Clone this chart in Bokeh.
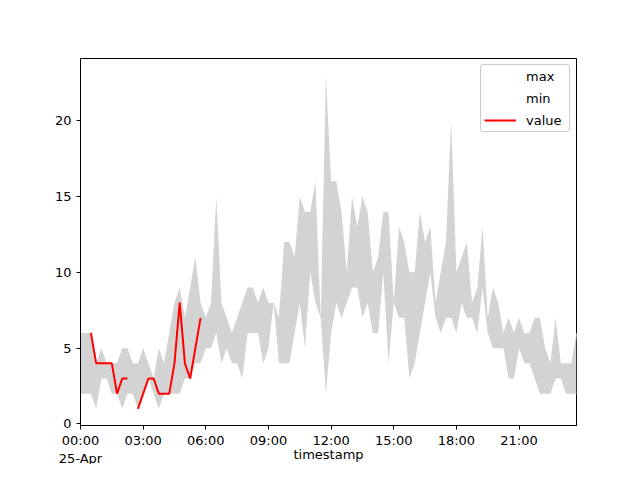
import pandas as pd
from bokeh.plotting import figure
from bokeh.models import ColumnDataSource, Range1d, FixedTicker, Legend, LegendItem
from bokeh.embed import file_html
from bokeh.resources import INLINE

nan = float("nan")

# 15-minute timestamps for 25-Apr
timestamps = pd.date_range("2023-04-25 00:00", periods=96, freq="15min")

max_vals = [6, 6, 6, 4, 5, 4, 4, 4, 5, 5,
            4, 4, 5, 4, 3, 5, 4, 6, 8, 9,
            7, 9, 11, 8, 7, 8, 15, 8, 7, 6,
            7, 8, 9, 9, 8, 9, 8, 8, 7, 12,
            12, 11, 15, 14, 14, 16, 7, 23, 16, 16,
            14, 10, 15, 13, 15, 14, 10, 11, 14, 14,
            8, 13, 12, 10, 10, 14, 12, 13, 8, 10,
            12, 20, 10, 11, 12, 8, 9, 13, 7, 9,
            8, 6, 7, 6, 7, 6, 6, 7, 7, 5,
            4, 7, 4, 4, 4, 6]

min_vals = [2, 2, 2, 1, 3, 3, 2, 2, 1, 2,
            2, 1, 2, 3, 2, 1, 2, 2, 2, 2,
            3, 3, 4, 4, 5, 5, 6, 4, 5, 4,
            4, 3, 6, 6, 6, 4, 5, 8, 4, 4,
            4, 6, 8, 5, 10, 8, 7, 2, 6, 8,
            7, 8, 9, 9, 7, 8, 6, 6, 10, 4,
            8, 7, 7, 3, 4, 6, 8, 10, 7, 6,
            7, 7, 6, 8, 7, 7, 6, 9, 6, 5,
            5, 5, 3, 3, 5, 4, 4, 3, 2, 2,
            2, 3, 3, 2, 2, 2]

value_vals = [nan, nan, 6, 4, 4, 4, 4, 2, 3, 3,
              nan, 1, 2, 3, 3, 2, 2, 2, 4, 8,
              4, 3, 5, 7] + [nan] * 72

tick_hours = [0, 3, 6, 9, 12, 15, 18, 21]
tick_labels = ["00:00\n25-Apr", "03:00", "06:00", "09:00", "12:00", "15:00", "18:00", "21:00"]
y_ticks = [0, 5, 10, 15, 20]

t_ms = [int(t.value // 10**6) for t in timestamps]
x_ticks = [t_ms[0] + h * 3600000 for h in tick_hours]

source = ColumnDataSource(dict(t=t_ms, mx=max_vals, mn=min_vals, val=value_vals))

p = figure(width=624, height=464, output_backend="svg", toolbar_location=None,
           x_axis_type="datetime",
           x_range=Range1d(t_ms[0], t_ms[-1]), y_range=Range1d(-0.1, 24.1),
           min_border_left=80, min_border_right=48, min_border_top=58, min_border_bottom=20,
           background_fill_color="white", border_fill_color="white")

p.xgrid.visible = False
p.ygrid.visible = False
p.outline_line_color = "black"
p.outline_line_width = 1
p.outline_line_alpha = 1

p.xaxis.ticker = FixedTicker(ticks=x_ticks, minor_ticks=[])
p.xaxis.major_label_overrides = {t: lab for t, lab in zip(x_ticks, tick_labels)}
p.yaxis.ticker = FixedTicker(ticks=y_ticks, minor_ticks=[])
p.xaxis.axis_label = "timestamp"

for ax in (p.xaxis, p.yaxis):
    ax.major_tick_out = 4
    ax.major_tick_in = 0
    ax.minor_tick_out = 0
    ax.minor_tick_in = 0
    ax.axis_line_width = 1
    ax.axis_line_color = "black"
    ax.major_tick_line_color = "black"
    ax.major_label_text_font = "DejaVu Sans"
    ax.major_label_text_font_size = "13px"
    ax.major_label_text_color = "black"
    ax.axis_label_text_font = "DejaVu Sans"
    ax.axis_label_text_font_size = "13px"
    ax.axis_label_text_font_style = "normal"
    ax.axis_label_text_color = "black"
p.xaxis.major_label_standoff = 3
p.xaxis.axis_label_standoff = -22
p.yaxis.major_label_standoff = 5

r_max = p.line("t", "mx", source=source, line_color="white", line_width=2)
r_min = p.line("t", "mn", source=source, line_color="white", line_width=2)
p.varea(x="t", y1="mn", y2="mx", source=source, fill_color="#d3d3d3")
r_val = p.line("t", "val", source=source, line_color="red", line_width=2)

legend = Legend(items=[LegendItem(label="max", renderers=[r_max]),
                       LegendItem(label="min", renderers=[r_min]),
                       LegendItem(label="value", renderers=[r_val])],
                location="top_right")
legend.margin = 6
legend.padding = 3
legend.spacing = 6
legend.label_height = 16
legend.glyph_height = 16
legend.glyph_width = 32
legend.label_width = 40
legend.label_standoff = 10
legend.label_text_font = "DejaVu Sans"
legend.label_text_font_size = "13px"
legend.label_text_color = "black"
legend.border_line_color = "#cccccc"
legend.border_line_alpha = 1
legend.background_fill_alpha = 0.8
if "border_radius" in Legend.properties():
    legend.border_radius = 3
p.add_layout(legend)

open("out.html", "w").write(file_html(p, INLINE))
